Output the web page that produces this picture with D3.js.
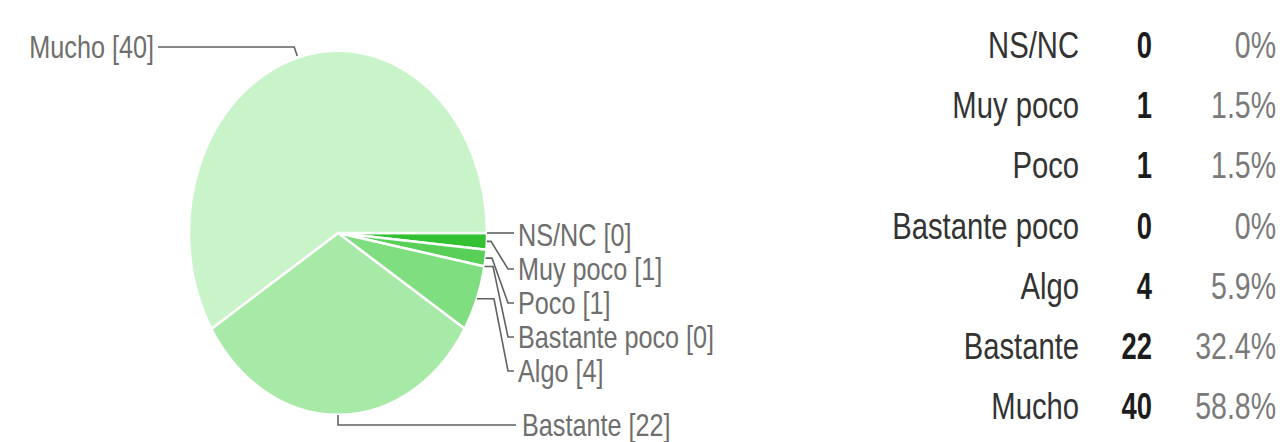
<!DOCTYPE html>
<html>
<head>
<meta charset="utf-8">
<script src="https://cdn.jsdelivr.net/npm/d3@7/dist/d3.min.js"></script>
<style>
  html, body { margin: 0; padding: 0; background: #fff; }
  svg { display: block; }
  text { font-family: "Liberation Sans", Arial, sans-serif; }
</style>
</head>
<body>
<svg id="chart" width="1280" height="442"></svg>
<script>
// Survey answers, in the order the slices run clockwise from 3 o'clock
const categories = ["NS/NC", "Muy poco", "Poco", "Bastante poco", "Algo", "Bastante", "Mucho"];
const counts = [0, 1, 1, 0, 4, 22, 40];
const percents = ["0%", "1.5%", "1.5%", "0%", "5.9%", "32.4%", "58.8%"];
const sliceColors = ["#16b316", "#33c133", "#58d058", "#6fd86f", "#7fde7f", "#a7eaa7", "#c9f3c9"];

const svg = d3.select("#chart");

// Elliptical pie geometry
const cx = 338, cy = 233, rx = 149, ry = 182;

const data = categories.map((c, i) => ({ name: c, value: counts[i], color: sliceColors[i] }));

const pie = d3.pie()
  .sort(null)
  .value(d => d.value)
  .startAngle(Math.PI / 2)
  .endAngle(Math.PI / 2 + 2 * Math.PI);

const arcs = pie(data);
const arc = d3.arc().innerRadius(0).outerRadius(1);

const pieG = svg.append("g")
  .attr("transform", `translate(${cx},${cy}) scale(${rx},${ry})`);

pieG.selectAll("path")
  .data(arcs.filter(a => a.value > 0))
  .join("path")
  .attr("d", arc)
  .attr("fill", d => d.data.color)
  .attr("stroke", "#ffffff")
  .attr("stroke-width", 2.5)
  .attr("vector-effect", "non-scaling-stroke");

// Point on the ellipse rim at a d3 pie angle
function rim(a) {
  return [cx + rx * Math.sin(a), cy - ry * Math.cos(a)];
}
function mid(a) { return (a.startAngle + a.endAngle) / 2; }

// Narrow lettering: horizontally squeezed text
function addText(g, x, y, str, opts) {
  g.append("text")
    .attr("transform", `translate(${x},${y}) scale(${opts.squeeze},1)`)
    .attr("text-anchor", opts.anchor || "start")
    .attr("font-size", opts.size)
    .attr("font-weight", opts.weight || "normal")
    .attr("fill", opts.fill)
    .text(str);
}

const lineColor = "#616161";
const labelStyle = { size: 31.5, fill: "#6e6e6e", squeeze: 0.8 };
const labelG = svg.append("g");
const line = d3.line();

// Small slices: stacked labels on the right
const rightIdx = [0, 1, 2, 3, 4];
const labelX = 518;
rightIdx.forEach((i, k) => {
  const a = arcs[i];
  const [ex, ey] = rim(mid(a));
  const ly = 235 + k * 34;
  const pts = k === 0
    ? [[ex, ey], [labelX - 4, ey]]
    : [[ex, ey], [490 + k, ey], [508, ly], [labelX - 4, ly]];
  labelG.append("path")
    .attr("d", line(pts))
    .attr("fill", "none")
    .attr("stroke", lineColor)
    .attr("stroke-width", 1.6);
  addText(labelG, labelX, ly + 11, `${categories[i]} [${counts[i]}]`, labelStyle);
});

// Bastante: straight down, then right
{
  const a = arcs[5];
  const [ex, ey] = rim(mid(a));
  const ly = 425;
  labelG.append("path")
    .attr("d", line([[ex, ey], [ex, ly], [labelX - 2, ly]]))
    .attr("fill", "none")
    .attr("stroke", lineColor)
    .attr("stroke-width", 1.6);
  addText(labelG, labelX + 4, ly + 11, `${categories[5]} [${counts[5]}]`, labelStyle);
}

// Mucho: up to the top-left
{
  const a = arcs[6];
  const [ex, ey] = rim(mid(a));
  const ly = 47;
  labelG.append("path")
    .attr("d", line([[ex, ey - 2], [ex - 3, ly], [158, ly]]))
    .attr("fill", "none")
    .attr("stroke", lineColor)
    .attr("stroke-width", 1.6);
  addText(labelG, 154, ly + 11, `${categories[6]} [${counts[6]}]`,
    Object.assign({}, labelStyle, { anchor: "end" }));
}

// Summary table on the right
const tableG = svg.append("g");
const rowY = d3.scalePoint().domain(categories).range([58, 419]);
categories.forEach((c, i) => {
  const y = rowY(c);
  addText(tableG, 1079, y, c, { size: 37, fill: "#333333", anchor: "end", squeeze: 0.79 });
  addText(tableG, 1152, y, String(counts[i]), { size: 37, fill: "#1c1c1c", anchor: "end", weight: "bold", squeeze: 0.74 });
  addText(tableG, 1276, y, percents[i], { size: 37, fill: "#7a7a7a", anchor: "end", squeeze: 0.77 });
});
</script>
</body>
</html>
